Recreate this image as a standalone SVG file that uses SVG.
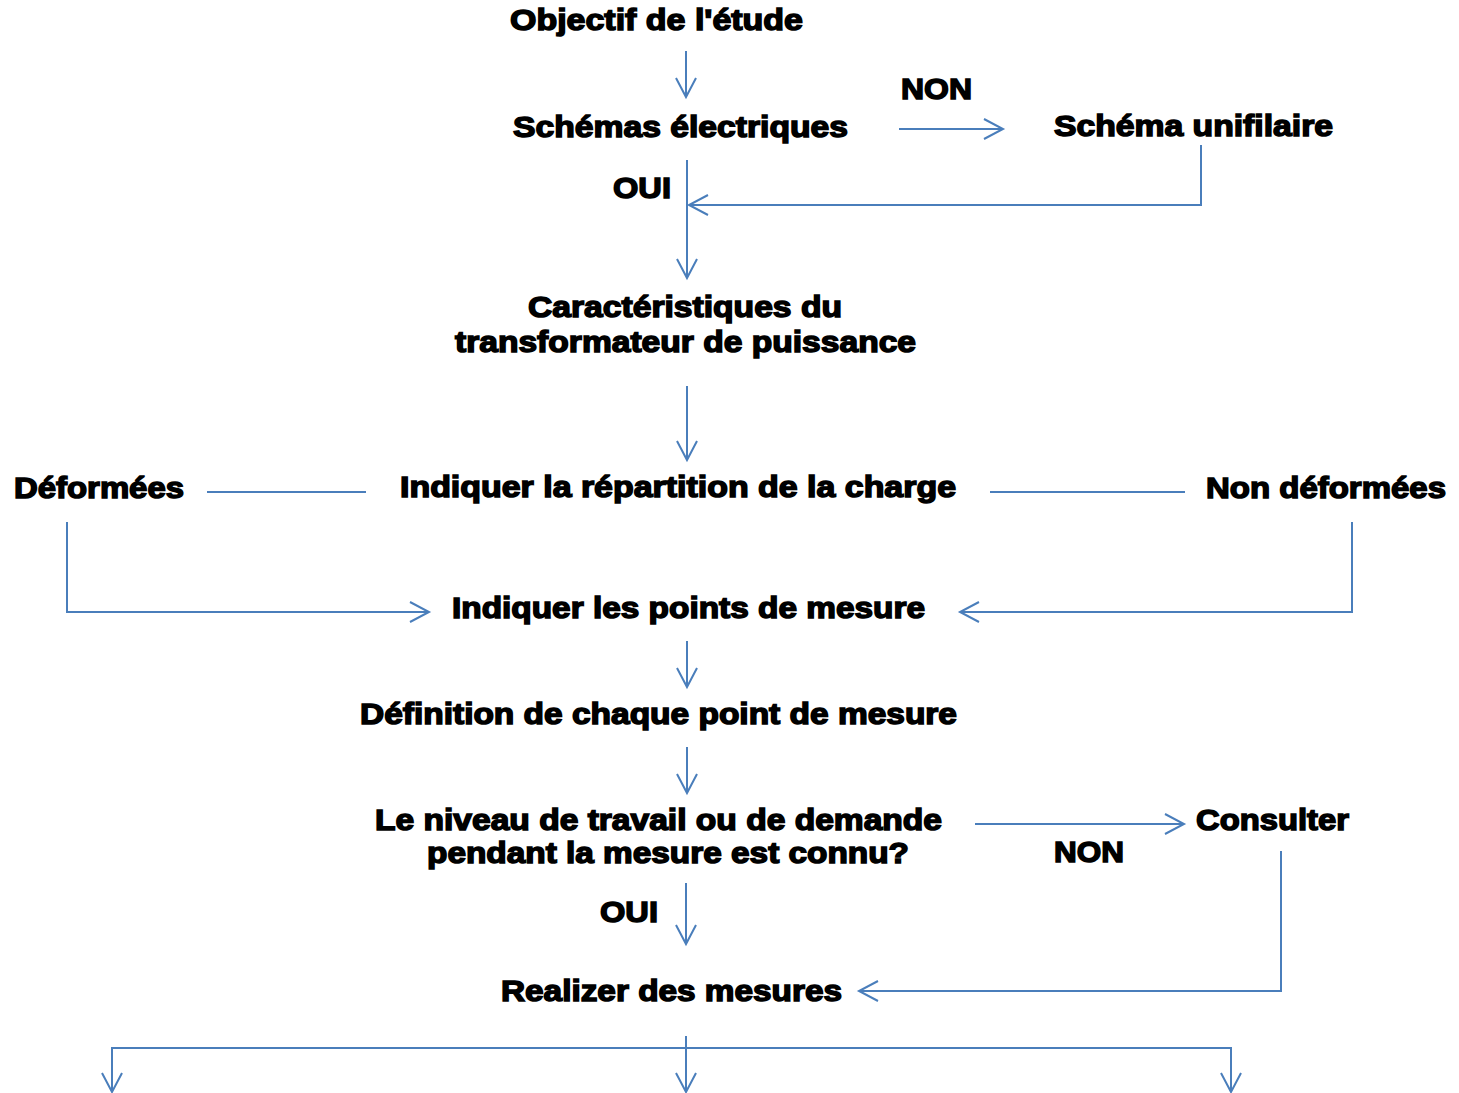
<svg xmlns="http://www.w3.org/2000/svg" width="1459" height="1093" viewBox="0 0 1459 1093">
<style>
text{font-family:"Liberation Sans",Arial,sans-serif;font-weight:bold;font-size:30px;fill:#000;stroke:#000;stroke-width:1.5px;}
.c{fill:none;stroke:#4A7EBB;stroke-width:2;}
</style>
<defs>
<marker id="a" markerUnits="userSpaceOnUse" markerWidth="24" markerHeight="24" viewBox="-21 -12 24 24" refX="0" refY="0" orient="auto" overflow="visible">
<path d="M-19,-10 L0,0 L-19,10" fill="none" stroke="#4A7EBB" stroke-width="2"/>
</marker>
</defs>
<rect width="1459" height="1093" fill="#fff"/>
<g id="connectors">
<path class="c" d="M686,51 V97" marker-end="url(#a)"/>
<path class="c" d="M899,129 H1003" marker-end="url(#a)"/>
<path class="c" d="M1201,145 V205 H689" marker-end="url(#a)"/>
<path class="c" d="M687,160 V278" marker-end="url(#a)"/>
<path class="c" d="M687,386 V460" marker-end="url(#a)"/>
<path class="c" d="M207,492 H366"/>
<path class="c" d="M990,492 H1185"/>
<path class="c" d="M67,522 V612 H429" marker-end="url(#a)"/>
<path class="c" d="M1352,522 V612 H960" marker-end="url(#a)"/>
<path class="c" d="M687,641 V687" marker-end="url(#a)"/>
<path class="c" d="M687,747 V793" marker-end="url(#a)"/>
<path class="c" d="M975,824 H1184" marker-end="url(#a)"/>
<path class="c" d="M1281,851 V991 H859" marker-end="url(#a)"/>
<path class="c" d="M686,883 V944" marker-end="url(#a)"/>
<path class="c" d="M686,1036 V1092" marker-end="url(#a)"/>
<path class="c" d="M112,1092 V1048 H1231 V1092" marker-end="url(#a)"/>
<path class="c" d="M112,1048 V1092" marker-end="url(#a)"/>
</g>
<g id="n_objectif"><text x="510" y="30" textLength="293" lengthAdjust="spacingAndGlyphs">Objectif de l'étude</text></g>
<g id="n_schemas"><text x="513" y="137" textLength="335" lengthAdjust="spacingAndGlyphs">Schémas électriques</text></g>
<g id="l_non1"><text x="901" y="99" textLength="71" lengthAdjust="spacingAndGlyphs">NON</text></g>
<g id="n_unifilaire"><text x="1054" y="136" textLength="279" lengthAdjust="spacingAndGlyphs">Schéma unifilaire</text></g>
<g id="l_oui1"><text x="613" y="198" textLength="58" lengthAdjust="spacingAndGlyphs">OUI</text></g>
<g id="n_caract">
<text x="528" y="317" textLength="314" lengthAdjust="spacingAndGlyphs">Caractéristiques du</text>
<text x="455" y="352" textLength="461" lengthAdjust="spacingAndGlyphs">transformateur de puissance</text>
</g>
<g id="n_deformees"><text x="14" y="498" textLength="170" lengthAdjust="spacingAndGlyphs">Déformées</text></g>
<g id="n_repartition"><text x="400" y="497" textLength="556" lengthAdjust="spacingAndGlyphs">Indiquer la répartition de la charge</text></g>
<g id="n_nondeformees"><text x="1206" y="498" textLength="240" lengthAdjust="spacingAndGlyphs">Non déformées</text></g>
<g id="n_points"><text x="452" y="618" textLength="473" lengthAdjust="spacingAndGlyphs">Indiquer les points de mesure</text></g>
<g id="n_definition"><text x="360" y="724" textLength="597" lengthAdjust="spacingAndGlyphs">Définition de chaque point de mesure</text></g>
<g id="n_niveau">
<text x="375" y="830" textLength="567" lengthAdjust="spacingAndGlyphs">Le niveau de travail ou de demande</text>
<text x="427" y="863" textLength="482" lengthAdjust="spacingAndGlyphs">pendant la mesure est connu?</text>
</g>
<g id="n_consulter"><text x="1196" y="830" textLength="153" lengthAdjust="spacingAndGlyphs">Consulter</text></g>
<g id="l_non2"><text x="1054" y="862" textLength="70" lengthAdjust="spacingAndGlyphs">NON</text></g>
<g id="l_oui2"><text x="600" y="922" textLength="58" lengthAdjust="spacingAndGlyphs">OUI</text></g>
<g id="n_realizer"><text x="501" y="1001" textLength="341" lengthAdjust="spacingAndGlyphs">Realizer des mesures</text></g>
</svg>
